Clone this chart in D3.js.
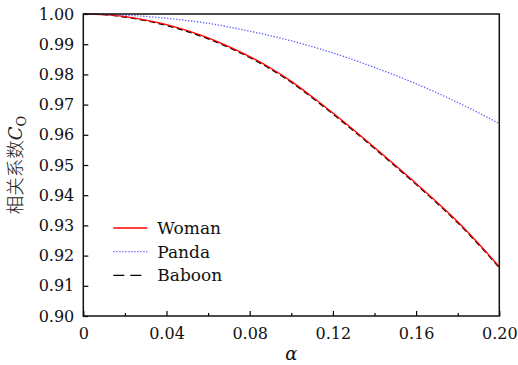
<!DOCTYPE html>
<html>
<head>
<meta charset="utf-8">
<script src="https://cdn.jsdelivr.net/npm/d3@7"></script>
<style>
  body { margin: 0; background: #fff; }
</style>
</head>
<body>
<div id="chart"></div>
<script>
const alpha = [0, 0.01, 0.02, 0.03, 0.04, 0.05, 0.06, 0.07, 0.08, 0.09, 0.1,
  0.11, 0.12, 0.13, 0.14, 0.15, 0.16, 0.17, 0.18, 0.19, 0.2];
const woman = [1.0, 0.9998, 0.9991, 0.998, 0.9965, 0.9945, 0.9921, 0.9892, 0.9859, 0.9821, 0.9777,
  0.9726, 0.9672, 0.9616, 0.9558, 0.9499, 0.9439, 0.9377, 0.9312, 0.924, 0.9163];
const panda = [1.0, 0.9999, 0.9996, 0.9992, 0.9986, 0.9978, 0.9969, 0.9957, 0.9943, 0.9928, 0.9911,
  0.9892, 0.9871, 0.9848, 0.9823, 0.9797, 0.9769, 0.9739, 0.9707, 0.9673, 0.9637];
const baboon = [1.0, 0.9998, 0.999, 0.9978, 0.9962, 0.9942, 0.9918, 0.9889, 0.9856, 0.9818, 0.9774,
  0.9723, 0.9669, 0.9613, 0.9555, 0.9496, 0.9436, 0.9374, 0.9309, 0.9237, 0.916];
const xTicks = [0, 0.04, 0.08, 0.12, 0.16, 0.2];
const xTickLabels = ["0", "0.04", "0.08", "0.12", "0.16", "0.20"];
const xMinor = [0.02, 0.06, 0.1, 0.14, 0.18];
const yTicks = [0.9, 0.91, 0.92, 0.93, 0.94, 0.95, 0.96, 0.97, 0.98, 0.99, 1.0];

const serif = "'DejaVu Serif', 'Liberation Serif', serif";

const series = [
  { name: "Baboon", values: baboon, color: "#000", width: 1.4, dash: "6,3.5", legendDash: "11,6" },
  { name: "Woman", values: woman, color: "#ff0000", width: 1.3, dash: null, legendDash: null },
  { name: "Panda", values: panda, color: "#5a5aff", width: 1.3, dash: "1.3,1.7", legendDash: "1.3,1.7" }
];
const legendOrder = ["Woman", "Panda", "Baboon"];

const margin = { top: 14, right: 18.7, bottom: 49, left: 83.3 },
  width = 518 - margin.left - margin.right,
  height = 365 - margin.top - margin.bottom;

const svg = d3.select("#chart")
  .append("svg")
  .attr("width", 518)
  .attr("height", 365)
  .append("g")
  .attr("transform", `translate(${margin.left},${margin.top})`);

const x = d3.scaleLinear().domain([0, 0.2]).range([0, width]);
const y = d3.scaleLinear().domain([0.9, 1.0]).range([height, 0]);

// curves
const line = d3.line()
  .x((d, i) => x(alpha[i]))
  .y(d => y(d))
  .curve(d3.curveMonotoneX);

series.forEach(s => {
  svg.append("path")
    .datum(s.values)
    .attr("fill", "none")
    .attr("stroke", s.color)
    .attr("stroke-width", s.width)
    .attr("stroke-dasharray", s.dash)
    .attr("d", line);
});

// x axis (ticks inward)
const xAxis = svg.append("g")
  .attr("transform", `translate(0,${height})`)
  .call(d3.axisBottom(x).tickValues(xTicks).tickSize(-5).tickPadding(12)
    .tickFormat((d, i) => xTickLabels[i]));
xAxis.select(".domain").remove();
xAxis.selectAll("line").attr("stroke", "#000").attr("stroke-width", 1.2);
xAxis.selectAll("text")
  .style("font-family", serif).style("font-size", "16px").attr("fill", "#111");

const xAxisMinor = svg.append("g")
  .attr("transform", `translate(0,${height})`)
  .call(d3.axisBottom(x).tickValues(xMinor).tickSize(-3).tickFormat(""));
xAxisMinor.select(".domain").remove();
xAxisMinor.selectAll("line").attr("stroke", "#000").attr("stroke-width", 1.2);

// y axis
const yAxis = svg.append("g")
  .call(d3.axisLeft(y).tickValues(yTicks).tickSize(-5).tickPadding(9)
    .tickFormat(d3.format(".2f")));
yAxis.select(".domain").remove();
yAxis.selectAll("line").attr("stroke", "#000").attr("stroke-width", 1.2);
yAxis.selectAll("text")
  .style("font-family", serif).style("font-size", "16px").attr("fill", "#111");

// frame
svg.append("rect")
  .attr("width", width)
  .attr("height", height)
  .attr("fill", "none")
  .attr("stroke", "#111")
  .attr("stroke-width", 1.5);

// axis labels
svg.append("text")
  .attr("x", width / 2)
  .attr("y", height + 44)
  .attr("text-anchor", "middle")
  .style("font-family", serif)
  .style("font-style", "italic")
  .style("font-size", "18px")
  .attr("fill", "#111")
  .text("α");

const yl = svg.append("text")
  .attr("transform", `translate(-61,${height / 2}) rotate(-90)`)
  .attr("text-anchor", "middle")
  .attr("fill", "#222");
yl.append("tspan")
  .style("font-family", "'Noto Sans CJK SC', sans-serif")
  .style("font-weight", 300)
  .style("font-size", "18.5px")
  .text("相关系数");
yl.append("tspan")
  .style("font-family", serif)
  .style("font-style", "italic")
  .style("font-size", "18px")
  .text("C");
yl.append("tspan")
  .style("font-family", serif)
  .style("font-size", "13px")
  .attr("dy", 4)
  .text("O");

// legend
const legend = svg.append("g").attr("transform", "translate(30,214)");
legendOrder.forEach((name, i) => {
  const s = series.find(d => d.name === name);
  const g = legend.append("g").attr("transform", `translate(0,${i * 23.7})`);
  g.append("line")
    .attr("x1", 0).attr("x2", 34)
    .attr("stroke", s.color)
    .attr("stroke-width", s.width)
    .attr("stroke-dasharray", s.legendDash);
  g.append("text")
    .attr("x", 44)
    .attr("y", 6)
    .style("font-family", serif)
    .style("font-size", "17px")
    .attr("fill", "#111")
    .text(name);
});
</script>
</body>
</html>
